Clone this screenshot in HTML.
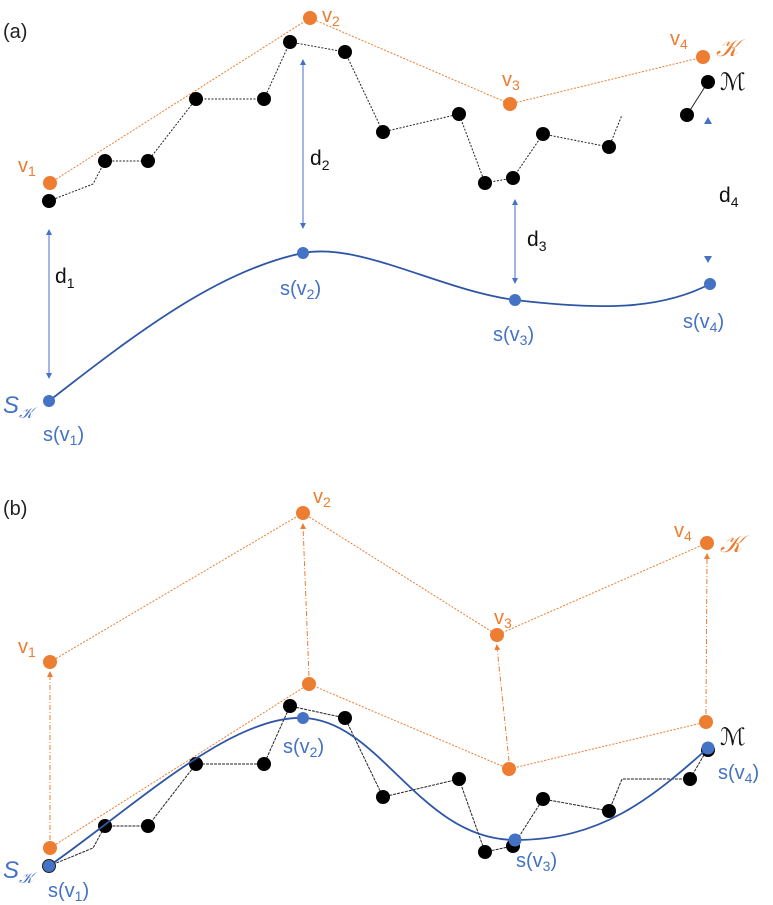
<!DOCTYPE html>
<html><head><meta charset="utf-8"><style>body{margin:0;background:#fff}svg{display:block}text{font-family:"Liberation Sans",sans-serif}</style></head><body>
<svg width="773" height="905" viewBox="0 0 773 905" xmlns="http://www.w3.org/2000/svg">
<defs>
<marker id="ab" viewBox="0 0 10 10" refX="5" refY="5" markerWidth="6" markerHeight="6" orient="auto-start-reverse"><path d="M0,0L10,5L0,10z" fill="#4472c4"/></marker>
<marker id="ao" viewBox="0 0 10 10" refX="5" refY="5" markerWidth="6" markerHeight="6" orient="auto"><path d="M0,0L10,5L0,10z" fill="#ed7d31"/></marker>
</defs>
<text x="3" y="38" font-size="20" fill="#222">(a)</text>
<polyline points="50,183 310,18 510,104 703,57" fill="none" stroke="#ed7d31" stroke-width="1" stroke-dasharray="2,1.5"/>
<polyline points="49,201 93,184 105,161 148,161 196,99 264,99 290,42 345,52 383,132 459,114 485,183 513,178 543,134 609,147 622,115" fill="none" stroke="#222" stroke-width="1" stroke-dasharray="2,1.5"/>
<line x1="687" y1="115" x2="708" y2="82" stroke="#222" stroke-width="1"/>
<g fill="#000"><circle cx="49" cy="201" r="7"/><circle cx="105" cy="161" r="7"/><circle cx="148" cy="161" r="7"/><circle cx="196" cy="99" r="7"/><circle cx="264" cy="99" r="7"/><circle cx="290" cy="42" r="7"/><circle cx="345" cy="52" r="7"/><circle cx="383" cy="132" r="7"/><circle cx="459" cy="114" r="7"/><circle cx="485" cy="183" r="7"/><circle cx="513" cy="178" r="7"/><circle cx="543" cy="134" r="7"/><circle cx="609" cy="147" r="7"/><circle cx="687" cy="115" r="7"/><circle cx="708" cy="82" r="7"/></g>
<g fill="#ed7d31"><circle cx="50" cy="183" r="7"/><circle cx="310" cy="18" r="7"/><circle cx="510" cy="104" r="7"/><circle cx="703" cy="57" r="7"/></g>
<path d="M49,401 C140,330 220,270 303,253 C360,242 440,290 515,300 C600,310 660,310 710,284" fill="none" stroke="#2f56a6" stroke-width="1.8"/>
<g stroke="#4472c4" stroke-width="1"><line x1="49" y1="232" x2="49" y2="376" marker-start="url(#ab)" marker-end="url(#ab)"/><line x1="303" y1="62" x2="303" y2="226" marker-start="url(#ab)" marker-end="url(#ab)"/><line x1="515" y1="202" x2="515" y2="281" marker-start="url(#ab)" marker-end="url(#ab)"/></g>
<path d="M704,124 L712,124 L708,117z M704,256 L712,256 L708,263z" fill="#4472c4"/>
<g fill="#4472c4"><circle cx="49" cy="401" r="6"/><circle cx="303" cy="253" r="6"/><circle cx="515" cy="300" r="6"/><circle cx="710" cy="284" r="6"/></g>
<g font-size="20" fill="#ed7d31"><text x="18" y="172">v<tspan font-size="14" dy="4">1</tspan></text><text x="322" y="22">v<tspan font-size="14" dy="4">2</tspan></text><text x="502" y="86">v<tspan font-size="14" dy="4">3</tspan></text><text x="670" y="45">v<tspan font-size="14" dy="4">4</tspan></text><text x="716" y="56" font-family="Liberation Serif" font-style="italic" font-size="24">𝒦</text></g>
<text x="720" y="90" font-size="24" fill="#111" font-family="Liberation Serif">ℳ</text>
<g font-size="21" fill="#111"><text x="55" y="283">d<tspan font-size="14" dy="5">1</tspan></text><text x="310" y="165">d<tspan font-size="14" dy="5">2</tspan></text><text x="527" y="246">d<tspan font-size="14" dy="5">3</tspan></text><text x="719" y="202">d<tspan font-size="14" dy="5">4</tspan></text></g>
<g font-size="20" fill="#4472c4"><text x="280" y="295">s(v<tspan font-size="14" dy="4">2</tspan><tspan dy="-4">)</tspan></text><text x="493" y="341">s(v<tspan font-size="14" dy="4">3</tspan><tspan dy="-4">)</tspan></text><text x="683" y="328">s(v<tspan font-size="14" dy="4">4</tspan><tspan dy="-4">)</tspan></text><text x="43" y="441">s(v<tspan font-size="14" dy="4">1</tspan><tspan dy="-4">)</tspan></text><text x="3" y="413" font-family="Liberation Serif" font-style="italic" font-size="24">S<tspan font-size="15" dy="5">𝒦</tspan></text></g>

<text x="3" y="515" font-size="20" fill="#222">(b)</text>
<polyline points="50,662 303,513 497,635 707,543" fill="none" stroke="#ed7d31" stroke-width="1" stroke-dasharray="2,1.5"/>
<polyline points="50,848 309,684 509,769 706,722" fill="none" stroke="#ed7d31" stroke-width="1" stroke-dasharray="2,1.5"/>
<g stroke="#ed7d31" stroke-width="1" stroke-dasharray="5,2,1,2"><line x1="50" y1="840" x2="50" y2="674" marker-end="url(#ao)"/><line x1="309" y1="676" x2="303" y2="526" marker-end="url(#ao)"/><line x1="509" y1="761" x2="497" y2="647" marker-end="url(#ao)"/><line x1="706" y1="714" x2="707" y2="556" marker-end="url(#ao)"/></g>
<polyline points="49,866 93,848 105,826 148,826 196,764 264,764 290,706 345,718 383,797 459,779 485,852 513,846 543,799 609,811 622,779 690,779 708,748" fill="none" stroke="#222" stroke-width="1" stroke-dasharray="3,1"/>
<g fill="#000"><circle cx="105" cy="826" r="7"/><circle cx="148" cy="826" r="7"/><circle cx="196" cy="764" r="7"/><circle cx="264" cy="764" r="7"/><circle cx="290" cy="706" r="7"/><circle cx="345" cy="718" r="7"/><circle cx="383" cy="797" r="7"/><circle cx="459" cy="779" r="7"/><circle cx="485" cy="852" r="7"/><circle cx="513" cy="846" r="7"/><circle cx="543" cy="799" r="7"/><circle cx="609" cy="811" r="7"/><circle cx="690" cy="779" r="7"/><circle cx="708" cy="750" r="7"/></g>
<g fill="#ed7d31"><circle cx="50" cy="662" r="7"/><circle cx="303" cy="513" r="7"/><circle cx="497" cy="635" r="7"/><circle cx="707" cy="543" r="7"/><circle cx="50" cy="848" r="7"/><circle cx="309" cy="684" r="7"/><circle cx="509" cy="769" r="7"/><circle cx="706" cy="722" r="7"/></g>
<path d="M49,866 C130,810 230,715 303,718 C380,720 420,840 515,840 C600,840 650,800 708,748" fill="none" stroke="#2f56a6" stroke-width="1.8"/>
<g fill="#4472c4"><circle cx="49" cy="866" r="6.5" stroke="#222" stroke-width="1"/><circle cx="303" cy="718" r="6"/><circle cx="515" cy="840" r="6.5"/><circle cx="708" cy="748" r="6.5"/></g>
<g font-size="20" fill="#ed7d31"><text x="18" y="653">v<tspan font-size="14" dy="4">1</tspan></text><text x="313" y="503">v<tspan font-size="14" dy="4">2</tspan></text><text x="494" y="624">v<tspan font-size="14" dy="4">3</tspan></text><text x="674" y="537">v<tspan font-size="14" dy="4">4</tspan></text><text x="720" y="552" font-family="Liberation Serif" font-style="italic" font-size="24">𝒦</text></g>
<text x="720" y="745" font-size="24" fill="#111" font-family="Liberation Serif">ℳ</text>
<g font-size="20" fill="#4472c4"><text x="283" y="753">s(v<tspan font-size="14" dy="4">2</tspan><tspan dy="-4">)</tspan></text><text x="516" y="867">s(v<tspan font-size="14" dy="4">3</tspan><tspan dy="-4">)</tspan></text><text x="718" y="779">s(v<tspan font-size="14" dy="4">4</tspan><tspan dy="-4">)</tspan></text><text x="48" y="897">s(v<tspan font-size="14" dy="4">1</tspan><tspan dy="-4">)</tspan></text><text x="3" y="878" font-family="Liberation Serif" font-style="italic" font-size="24">S<tspan font-size="15" dy="5">𝒦</tspan></text></g>
</svg>
</body></html>
